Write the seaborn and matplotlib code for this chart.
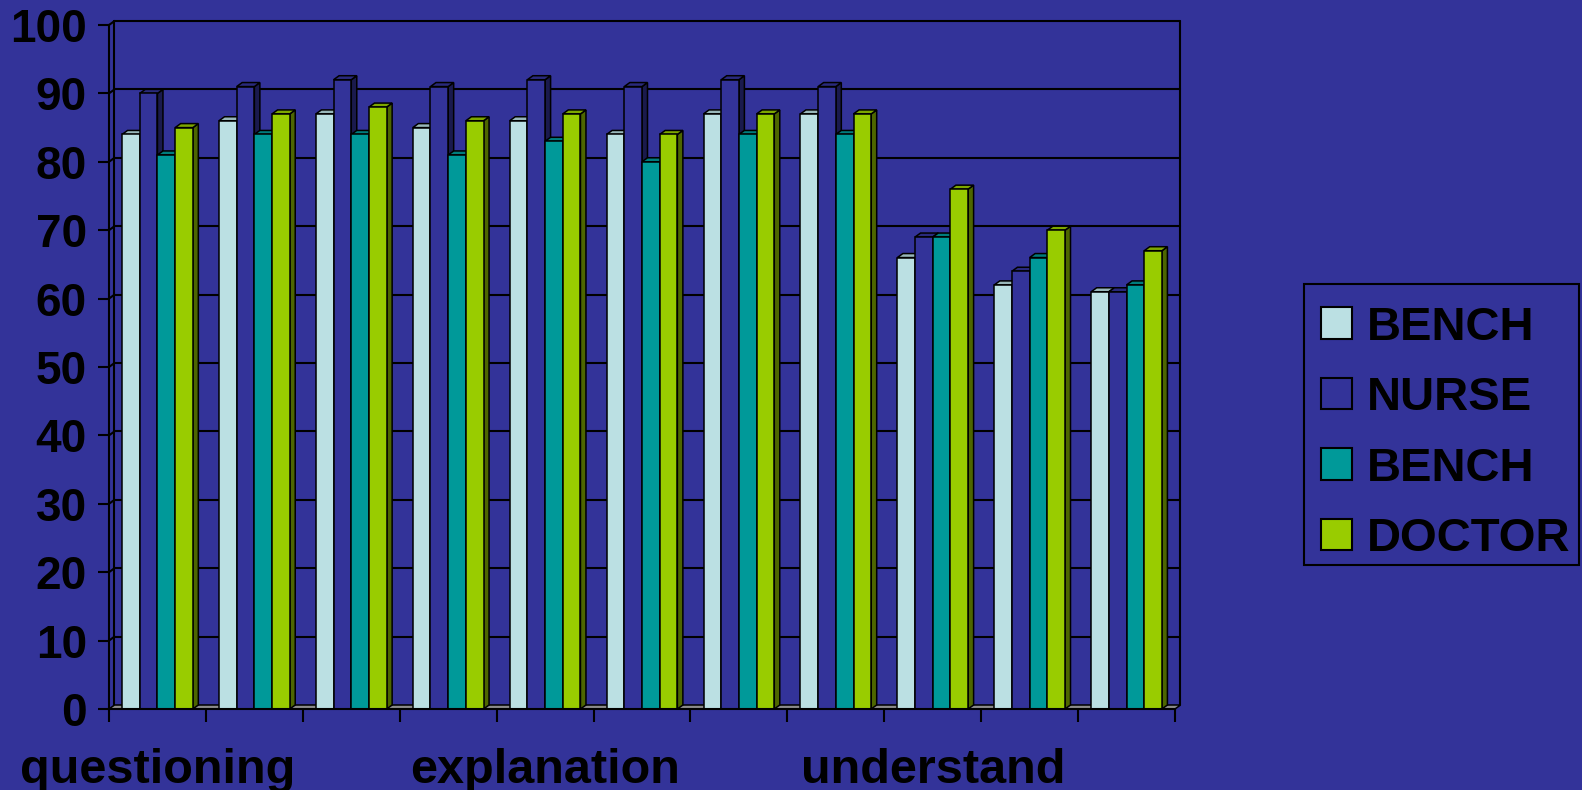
import numpy as np
import pandas as pd
import matplotlib
matplotlib.use("Agg")
import matplotlib.pyplot as plt
from matplotlib.patches import Polygon, Patch, Rectangle
from matplotlib.lines import Line2D
import seaborn as sns

# ---- data -------------------------------------------------------------
categories = list(range(1, 12))
tick_labels = ["questioning", "", "", "", "explanation", "", "", "",
               "understand", "", ""]
series_names = ["BENCH", "NURSE", "BENCH", "DOCTOR"]
bench_a = [84, 86, 87, 85, 86, 84, 87, 87, 66, 62, 61]
nurse = [90, 91, 92, 91, 92, 91, 92, 91, 69, 64, 61]
bench_b = [81, 84, 84, 81, 83, 80, 84, 84, 69, 66, 62]
doctor = [85, 87, 88, 86, 87, 84, 87, 87, 76, 70, 67]
y_ticks = list(range(0, 101, 10))

BG = "#333399"
series_colors = ["#BBE0E3", "#333399", "#009999", "#99CC00"]

# ---- table for seaborn ------------------------------------------------
values = [bench_a, nurse, bench_b, doctor]
df = pd.DataFrame({
    "cat": np.tile(categories, len(values)),
    "series": np.repeat(np.arange(len(values)), len(categories)),
    "score": np.concatenate(values),
})

sns.set_style("white")
plt.rcParams["font.family"] = ["Liberation Sans", "DejaVu Sans"]
plt.rcParams["font.weight"] = "bold"

W, H = 1582, 790
fig = plt.figure(figsize=(W / 100, H / 100), dpi=100, facecolor=BG)
x_left, x_right, y_bot, y_top = 109, 1175, 709, 25
ax = fig.add_axes([x_left / W, 1 - y_bot / H,
                   (x_right - x_left) / W, (y_bot - y_top) / H])
ax.set_facecolor("none")

sns.barplot(data=df, x="cat", y="score", hue="series",
            order=categories, hue_order=list(range(4)),
            palette=dict(enumerate(series_colors)),
            width=0.73, dodge=True, errorbar=None,
            edgecolor="black", linewidth=1.1, saturation=1,
            legend=False, ax=ax, zorder=3)

n = len(categories)
x0, x1 = -0.5, n - 0.5
ax.set_xlim(x0, x1)
ax.set_ylim(0, 100)

# depth offset of the pseudo-3D box, in data units
depth_px_x, depth_px_y = 5.5, 4.0
ddx = depth_px_x * (x1 - x0) / (x_right - x_left)
ddy = depth_px_y * 100 / (y_bot - y_top)

# back wall, left wall and floor
wall_kw = dict(color="black", lw=1.5, clip_on=False, zorder=1)
for v in y_ticks[1:]:
    ax.add_line(Line2D([x0 + ddx, x1 + ddx], [v + ddy, v + ddy], **wall_kw))
    ax.add_line(Line2D([x0, x0 + ddx], [v, v + ddy], **wall_kw))
ax.add_line(Line2D([x0 + ddx, x0 + ddx], [ddy, 100 + ddy], **wall_kw))
ax.add_line(Line2D([x1 + ddx, x1 + ddx], [ddy, 100 + ddy], **wall_kw))
ax.add_patch(Polygon([(x0, 0), (x1, 0), (x1 + ddx, ddy), (x0 + ddx, ddy)],
                     closed=True, facecolor="#8C8C8C", edgecolor="black",
                     lw=1.1, clip_on=False, zorder=1.5))


def shade(c, f):
    r, g, b = matplotlib.colors.to_rgb(c)
    return (r * f, g * f, b * f)


# top and side faces for each bar, drawn left to right
bars = []
for idx, cont in enumerate(ax.containers):
    for p in cont.patches:
        bars.append((p.get_x(), p, series_colors[idx]))
bars.sort(key=lambda t: t[0])
for _, p, col in bars:
    bx, bw, bh = p.get_x(), p.get_width(), p.get_height()
    side = Polygon([(bx + bw, 0), (bx + bw + ddx, ddy),
                    (bx + bw + ddx, bh + ddy), (bx + bw, bh)],
                   closed=True, facecolor=shade(col, 0.5),
                   edgecolor="black", lw=1.1, clip_on=False, zorder=2)
    top = Polygon([(bx, bh), (bx + bw, bh), (bx + bw + ddx, bh + ddy),
                   (bx + ddx, bh + ddy)],
                  closed=True, facecolor=shade(col, 0.82),
                  edgecolor="black", lw=1.1, clip_on=False, zorder=2)
    ax.add_patch(side)
    ax.add_patch(top)

# axes, ticks and labels
for s in ["top", "right"]:
    ax.spines[s].set_visible(False)
for s in ["left", "bottom"]:
    ax.spines[s].set_color("black")
    ax.spines[s].set_linewidth(1.5)
    ax.spines[s].set_zorder(4)

ax.set_yticks(y_ticks)
ax.set_yticklabels([str(v) for v in y_ticks], fontsize=33,
                   fontweight="bold", color="black")
ax.tick_params(axis="y", length=8, width=1.5, color="black", pad=8,
               direction="out", left=True)

ax.set_xticks(np.arange(x0, x1 + 0.01, 1.0))
ax.set_xticklabels([])
ax.set_xticks(np.arange(n), minor=True)
ax.set_xticklabels(tick_labels, minor=True, fontsize=35,
                   fontweight="bold", color="black")
ax.tick_params(axis="x", which="major", length=9.5, width=1.5,
               color="black", direction="out", bottom=True)
ax.tick_params(axis="x", which="minor", length=0, pad=28)
ax.set_xlabel("")
ax.set_ylabel("")

# legend box and entries
fig.add_artist(Rectangle((1304 / W, 1 - 565 / H), 275 / W, 281 / H,
                         transform=fig.transFigure, facecolor=BG,
                         edgecolor="black", lw=1.5, zorder=0))
handles = [Patch(facecolor=c, edgecolor="black", lw=1.5)
           for c in series_colors]
leg = fig.legend(handles, series_names, loc="upper left",
                 bbox_to_anchor=(1301 / W, 1 - 286 / H),
                 bbox_transform=fig.transFigure, borderaxespad=0,
                 frameon=False,
                 prop={"size": 34, "weight": "bold"},
                 handlelength=0.65, handleheight=0.65,
                 handletextpad=0.33, labelspacing=0.56, borderpad=0.42)
for t in leg.get_texts():
    t.set_color("black")

fig.savefig("out.png", dpi=100, facecolor=BG)
